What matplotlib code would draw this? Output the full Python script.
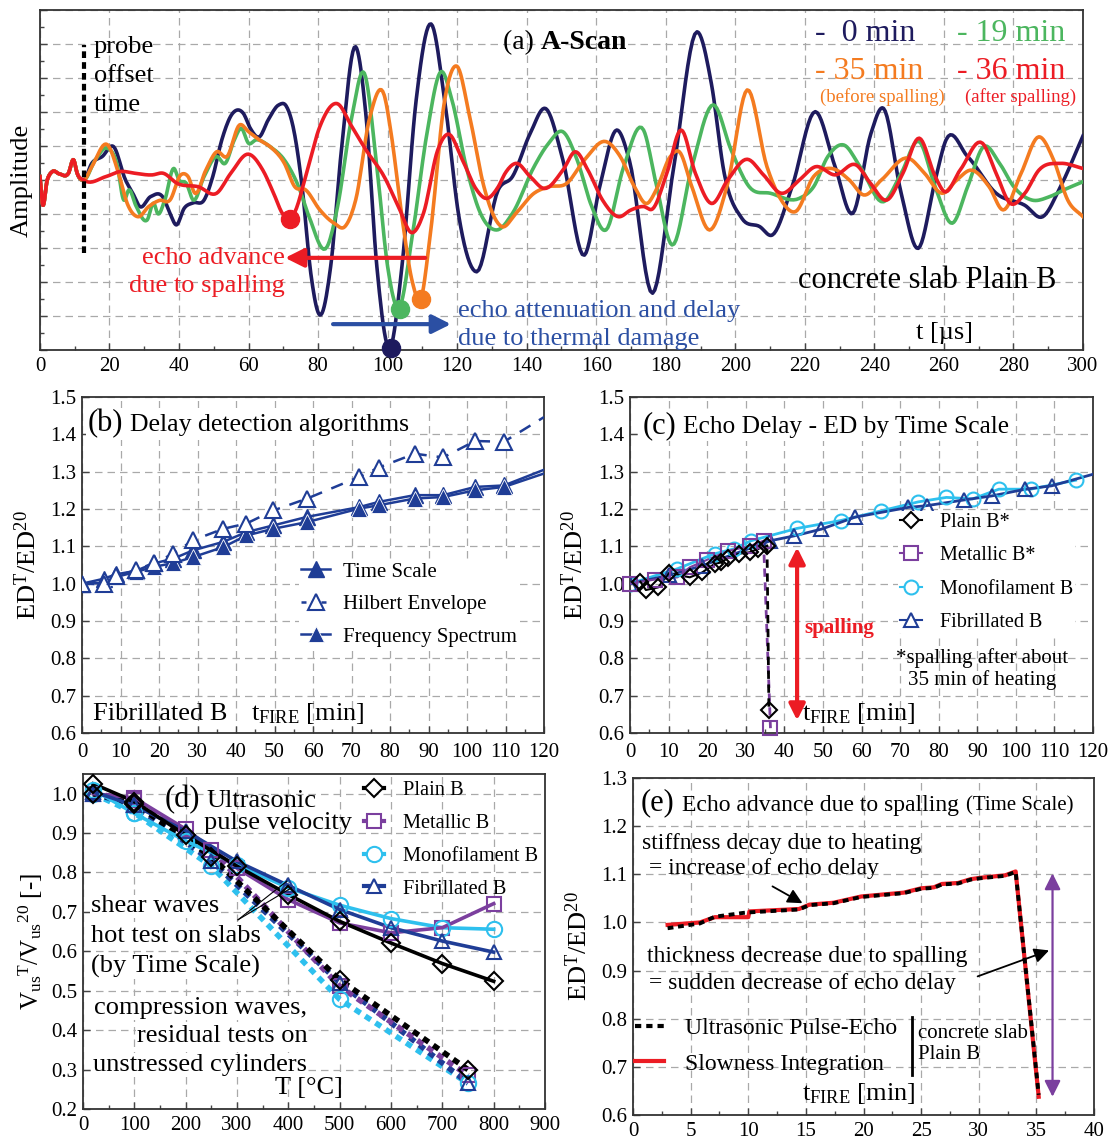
import numpy as np
import matplotlib
matplotlib.use("Agg")
import matplotlib.pyplot as plt
from matplotlib.ticker import MultipleLocator, FormatStrFormatter
from matplotlib.offsetbox import TextArea, HPacker, AnnotationBbox
from matplotlib.lines import Line2D

plt.rcParams['font.family'] = ['Liberation Serif', 'DejaVu Serif']
plt.rcParams['mathtext.fontset'] = 'custom'
plt.rcParams['mathtext.rm'] = 'Liberation Serif'
plt.rcParams['mathtext.it'] = 'Liberation Serif:italic'
plt.rcParams['mathtext.bf'] = 'Liberation Serif:bold'

# ---------------- (a) A-scan data (time in microseconds, amplitude in grid units) ----
pre_t = [0, 0.7, 2.1, 3.6, 5.6, 8.2, 9.7, 10.7, 12.6]
pre_a = [0.1, -0.69, 0.0, 0.25, 0.18, 0.2, 0.59, 0.2, 0.0]

navy_t = [14.9, 17.9, 21.2, 24.6, 26.7, 28.7, 31.8, 35.4, 37.4, 39.2, 41.5, 44.1, 47.2, 49.7,
          52.3, 55.4, 58.5, 60.5, 63.1, 65.6, 68.7, 70.8, 72.8, 75.4, 77.9, 80.5, 83.6, 86.7,
          90.8, 93.8, 96.9, 100.5, 104.1, 108.2, 112.5, 116.4, 120.5, 125.6, 131.8, 135.9,
          141.0, 145.5, 150.4, 156.6, 161.2, 165.9, 169.5, 176.2, 182.3, 189.0, 193.1, 196.8,
          201.9, 207.0, 210.6, 216.3, 223.0, 228.7, 233.8, 239.0, 242.6, 247.7, 252.6, 257.5,
          260.6, 266.8, 275.0, 283.2, 288.4, 293.5, 300.0]
navy_a = [0.49, 0.69, 0.98, 0.0, -0.39, -0.78, -0.49, -0.51, -0.98, -1.32, -0.83, -0.67, -0.59,
          0.1, 1.18, 1.96, 1.96, 1.52, 1.27, 1.76, 2.21, 2.18, 1.57, -0.2, -2.75, -3.97, -2.55,
          0.88, 3.92, 1.86, -2.55, -4.95, -2.55, 2.35, 4.59, 2.35, -1.08, -2.70, -0.29, 0.1,
          1.37, 2.1, 0.59, -2.21, -0.1, 1.47, 0.59, -3.33, 0.39, 4.36, 2.84, 0.2, -1.13, -1.37,
          -1.62, -0.2, 2.01, 0.39, -0.98, 1.37, 2.11, -0.39, -2.01, 0.0, 1.18, 0.69, -0.39,
          -0.74, -1.08, -0.2, 1.3]

green_t = [15.9, 19.5, 22.1, 24.1, 25.6, 27.7, 30.8, 32.8, 33.8, 35.9, 38.5, 40.0, 42.1, 44.1,
           47.2, 50.8, 53.3, 55.9, 57.9, 60.0, 62.1, 66.2, 70.3, 74.4, 77.4, 82.6, 85.6, 89.7,
           93.3, 96.9, 100.0, 103.1, 107.2, 111.3, 115.4, 118.5, 122.6, 126.7, 131.3, 135.9,
           142.1, 146.3, 150.4, 154.5, 158.7, 162.8, 167.9, 173.6, 177.2, 181.8, 187.5, 193.7,
           198.8, 204.0, 210.1, 218.4, 222.5, 226.6, 231.2, 235.9, 242.6, 247.7, 252.9, 257.5,
           262.4, 266.8, 271.4, 276.0, 280.1, 285.3, 290.4, 294.5, 300.0]
green_a = [0.59, 0.93, 0.49, -0.59, -0.29, -0.78, -1.18, -0.69, -0.98, -0.59, 0.34, 0.0, -0.1,
           -0.59, 0.1, 0.69, 0.49, 1.18, 1.52, 1.08, 1.18, 0.98, 0.59, -0.2, -1.08, -1.96,
           -0.78, 1.86, 3.14, 0.39, -2.55, -3.77, -1.57, 1.37, 3.19, 2.35, 0.39, -0.98, -1.47,
           -0.98, 0.39, 1.08, 1.42, 0.59, -0.78, -1.47, 0.39, 1.47, -0.1, -1.91, 0.39, 2.21,
           0.88, -0.2, -0.39, -0.54, -0.2, 0.69, 1.03, 0.39, -0.64, 0.2, 1.13, -0.2, -1.27,
           -0.2, 0.98, 0.49, -0.2, -0.59, -0.49, -0.29, -0.05]

orange_t = [14.9, 19.5, 22.6, 25.1, 28.2, 31.3, 34.4, 37.4, 40.5, 42.6, 44.6, 47.7, 50.8, 53.8,
            57.4, 60.0, 63.1, 66.2, 70.3, 73.3, 76.4, 80.5, 84.6, 87.7, 90.8, 94.9, 99.0, 101.0,
            104.1, 107.2, 109.4, 112.3, 116.4, 119.9, 123.6, 127.7, 132.8, 136.9, 142.1, 146.3,
            151.5, 156.6, 162.8, 166.9, 171.0, 174.6, 177.2, 181.3, 183.9, 187.5, 192.6, 197.8,
            203.4, 209.1, 213.2, 217.3, 222.5, 227.6, 232.8, 236.9, 242.0, 249.8, 254.4, 259.5,
            263.7, 267.8, 273.0, 277.0, 282.2, 287.3, 291.5, 295.6, 300.0]
orange_a = [0.39, 1.03, 0.2, -0.69, -1.08, -0.78, -0.6, -0.59, 0.15, 0.1, -0.39, 0.29, 0.83,
            0.69, 1.62, 1.42, 1.18, 0.98, 0.49, -0.2, -0.29, -0.88, -1.27, -1.37, -0.59, 1.86,
            2.5, 1.37, -1.08, -3.04, -3.53, -1.57, 2.35, 3.35, 1.86, -0.2, -1.37, -0.98, -0.39,
            -0.2, -0.1, 0.59, 1.13, 0.69, -0.2, -0.69, -0.3, 0.69, 0.83, -0.2, -1.47, -0.1, 2.65,
            0.39, -0.59, -0.93, 0.1, 0.34, 0.0, -0.44, 0.0, 0.64, 0.2, -0.39, 0.0, 0.29, -0.2,
            -0.88, 0.2, 1.27, 0.6, -0.59, -1.08]

red_t = [18.97, 23.1, 27.2, 32.3, 35.4, 39.5, 45.6, 50.8, 54.9, 60.0, 64.1, 67.2, 69.7, 71.8,
         73.5, 76.4, 80.5, 85.4, 89.7, 93.8, 99.0, 103.1, 107.0, 110.3, 114.4, 117.4, 121.5,
         125.6, 128.2, 131.8, 133.8, 136.9, 141.0, 145.1, 150.4, 154.0, 157.6, 161.8, 166.4,
         170.0, 173.6, 176.2, 180.3, 184.4, 188.5, 193.1, 197.8, 203.4, 208.1, 213.2, 218.4,
         223.0, 228.7, 234.8, 238.9, 243.6, 248.2, 252.9, 257.5, 260.1, 264.7, 271.1, 275.0,
         279.1, 283.2, 287.3, 293.5, 300.0]
red_a = [0.1, 0.25, 0.2, 0.15, 0.2, -0.1, -0.2, -0.39, 0.2, 0.76, 0.29, -0.39, -0.98, -1.18,
         -0.9, 0.1, 1.57, 2.25, 1.57, 0.88, 0.1, -0.78, -1.55, -0.98, 0.88, 1.35, 0.59, -0.29,
         -0.54, -0.2, 0.2, 0.49, 0.1, -0.25, 0.29, 0.83, 0.29, -0.59, -1.08, -0.88, -0.78,
         -0.85, 0.2, 1.47, 0.2, -0.69, 0.0, 0.61, 0.15, -0.39, 0.0, 0.39, 0.15, 0.44, -0.1,
         -0.59, 0.2, 1.23, 0.1, -0.34, 0.3, 1.08, 0.2, -0.69, -0.4, 0.29, 0.49, 0.34]

echo_t = [100.9, 103.5, 109.6, 71.9]        # picked echo minima: 0, 19, 35, 36 min
echo_a = [-4.94, -3.79, -3.5, -1.15]

# ---------------- (b) delay detection algorithms (Fibrillated B) ----
b_t = [0, 5.6, 8.8, 13.9, 18.6, 23.7, 28.8, 36.7, 42.7, 49.7, 58.5, 72.0, 77.1, 86.4, 93.8,
       102.1, 109.6]
b_timescale = [1.0, 1.013, 1.025, 1.034, 1.054, 1.067, 1.089, 1.112, 1.138, 1.156, 1.179,
               1.205, 1.219, 1.237, 1.237, 1.259, 1.263]
b_freq = [1.0, 1.002, 1.018, 1.031, 1.045, 1.055, 1.071, 1.098, 1.129, 1.147, 1.165, 1.201,
          1.21, 1.228, 1.232, 1.25, 1.259]
b_hilbert = [1.0, 0.998, 1.02, 1.036, 1.055, 1.08, 1.116, 1.147, 1.161, 1.196, 1.228, 1.286,
             1.311, 1.348, 1.338, 1.382, 1.38]
b_end_t = 120
b_end = {'ts': 1.305, 'fs': 1.295, 'he': 1.446}

# ---------------- (c) echo delay by time scale ----
plain_t = [2.7, 4.1, 7.3, 10.0, 15.5, 18.7, 21.9, 23.7, 25.5, 28.2, 31.0, 33.2, 35.5, 36.0]
plain_v = [1.005, 0.983, 0.99, 1.028, 1.017, 1.03, 1.053, 1.057, 1.07, 1.08, 1.084, 1.093,
           1.102, 0.661]
metal_t = [0, 6.4, 12.3, 15.5, 20.0, 25.5, 31.0, 34.6, 36.4]
metal_v = [1.0, 1.011, 1.017, 1.044, 1.064, 1.088, 1.10, 1.115, 0.613]
mono_t = [0, 12.3, 21.9, 26.9, 31.4, 43.3, 54.6, 65.1, 74.7, 82.0, 88.8, 95.6, 103.8, 115.5]
mono_v = [1.0, 1.04, 1.08, 1.093, 1.115, 1.148, 1.169, 1.195, 1.219, 1.231, 1.227, 1.253,
          1.253, 1.277]
fib_t = [0, 10.0, 18.7, 36.4, 42.6, 49.6, 58.3, 72.0, 77.0, 86.5, 93.8, 102.5, 109.3]
fib_v = [1.0, 1.022, 1.048, 1.115, 1.128, 1.146, 1.178, 1.204, 1.209, 1.224, 1.235, 1.253, 1.262]
fib_end = (120, 1.293)

# ---------------- (d) ultrasonic pulse velocity ----
hot_T = [20, 100, 200, 300, 400, 500, 600, 700, 800]
plain_hot = [1.025, 0.98, 0.895, 0.816, 0.744, 0.676, 0.621, 0.569, 0.524]
metal_hot = [1.0, 0.989, 0.91, 0.811, 0.731, 0.672, 0.647, 0.66, 0.721]
mono_hot = [1.01, 0.95, 0.88, 0.82, 0.761, 0.717, 0.683, 0.66, 0.656]
fib_hot = [1.005, 0.97, 0.905, 0.828, 0.767, 0.706, 0.66, 0.626, 0.598]
res_T = [20, 100, 250, 500, 750]
plain_res = [1.0, 0.975, 0.84, 0.528, 0.30]
metal_res = [1.0, 0.985, 0.858, 0.511, 0.285]
mono_res = [1.0, 0.951, 0.816, 0.478, 0.265]
fib_res = [1.0, 0.97, 0.83, 0.52, 0.266]

# ---------------- (e) echo advance due to spalling ----
e_red_t = [3.0, 5.8, 7.1, 10.0, 10.1, 14.4, 15.3, 17.4, 19.8, 23.5, 25.0, 26.1, 26.8, 28.2,
           29.3, 30.2, 32.3, 33.2, 35.2]
e_red_v = [0.995, 1.0, 1.011, 1.011, 1.023, 1.028, 1.037, 1.041, 1.054, 1.062, 1.071, 1.073,
           1.08, 1.082, 1.09, 1.093, 1.098, 1.106, 0.638]
e_blk_t = [3.0, 5.8, 7.1, 9.6, 10.1, 14.4, 15.3, 17.4, 19.8, 23.5, 25.0, 26.1, 26.8, 28.2,
           29.3, 30.2, 32.3, 33.2, 35.2]
e_blk_v = [0.988, 0.998, 1.012, 1.020, 1.021, 1.027, 1.036, 1.040, 1.053, 1.061, 1.070, 1.072,
           1.079, 1.081, 1.089, 1.092, 1.097, 1.105, 0.642]

# ---------------- colours ----
C_NAVY = '#1e1b5e'
C_GREEN = '#4cb65f'
C_ORANGE = '#f47b20'
C_RED = '#ec1c24'
C_BLUE = '#2b4fa3'
C_FIB = '#1f3d96'
C_PURPLE = '#7b3f9e'
C_CYAN = '#2ec0ee'
GRID = '#a9a9a9'


def smooth(x, y, n=10):
    x = np.asarray(x, float)
    y = np.asarray(y, float)
    m = np.gradient(y, x)
    xs, ys = [], []
    s = np.linspace(0, 1, n, endpoint=False)
    for i in range(len(x) - 1):
        h = x[i + 1] - x[i]
        h00 = 2 * s**3 - 3 * s**2 + 1
        h10 = s**3 - 2 * s**2 + s
        h01 = -2 * s**3 + 3 * s**2
        h11 = s**3 - s**2
        xs.append(x[i] + s * h)
        ys.append(h00 * y[i] + h10 * h * m[i] + h01 * y[i + 1] + h11 * h * m[i + 1])
    xs.append([x[-1]])
    ys.append([y[-1]])
    return np.concatenate(xs), np.concatenate(ys)


def setup(ax, xlim, ylim, xmaj, xmin, ymaj, ymin=None, yfmt='%.1f'):
    ax.set_xlim(*xlim)
    ax.set_ylim(*ylim)
    ax.xaxis.set_major_locator(MultipleLocator(xmaj))
    ax.xaxis.set_minor_locator(MultipleLocator(xmin))
    ax.yaxis.set_major_locator(MultipleLocator(ymaj))
    if ymin:
        ax.yaxis.set_minor_locator(MultipleLocator(ymin))
    if yfmt:
        ax.yaxis.set_major_formatter(FormatStrFormatter(yfmt))
    ax.grid(True, which='major', color=GRID, linestyle=(0, (6, 4)), linewidth=0.9)
    ax.set_axisbelow(True)
    ax.tick_params(direction='in', which='both', labelsize=15, length=5, width=1,
                   color='#444444', pad=4)
    ax.tick_params(axis='x', which='major', pad=7)
    ax.tick_params(which='minor', length=3)
    for sp in ax.spines.values():
        sp.set_color('#333333')
        sp.set_linewidth(1.3)


def mixed(ax, parts, xy, align=(0, 0.5), bg=False, sep=5):
    children = []
    for s, kw in parts:
        tp = dict(color='k')
        tp.update(kw)
        children.append(TextArea(s, textprops=tp))
    box = HPacker(children=children, align='baseline', pad=0, sep=sep)
    ab = AnnotationBbox(box, xy, xycoords='data', box_alignment=align, frameon=bg, pad=0.1,
                        bboxprops=dict(fc='white', ec='none'), zorder=6)
    ax.add_artist(ab)


fig = plt.figure(figsize=(11.1, 11.4), dpi=100)

# =============================== (a) ===============================
axa = fig.add_axes([0.0360, 0.6930, 0.9397, 0.2982])
setup(axa, (0, 300), (-5, 5), 20, 10, 1, 0.5, yfmt=None)
axa.xaxis.set_major_formatter(FormatStrFormatter('%d'))
axa.tick_params(axis='x', which='major', pad=5)
axa.set_yticklabels([])
axa.set_ylabel('Amplitude', fontsize=19)
axa.yaxis.set_label_coords(-0.007, 0.5)

for tt, aa, col in [(navy_t, navy_a, C_NAVY), (green_t, green_a, C_GREEN),
                    (orange_t, orange_a, C_ORANGE), (red_t, red_a, C_RED)]:
    xs, ys = smooth(pre_t + tt, pre_a + aa)
    axa.plot(xs, ys, color=col, lw=2.6, solid_joinstyle='round', zorder=3)

axa.plot([12.6, 12.6], [-2.15, 3.97], color='k', lw=3, linestyle=(0, (1.6, 1.0)), zorder=4)
for s, yy in [('probe', 3.92), ('offset', 3.06), ('time', 2.2)]:
    axa.text(15.4, yy, s, fontsize=19, va='center', ha='left', zorder=5)

for et, ea, col in zip(echo_t, echo_a, [C_NAVY, C_GREEN, C_ORANGE, C_RED]):
    axa.plot([et], [ea], 'o', color=col, ms=13, zorder=5, clip_on=False)

axa.annotate('', xy=(70.5, -2.29), xytext=(110.8, -2.29),
             arrowprops=dict(arrowstyle='-|>', color=C_RED, lw=3, mutation_scale=28,
                             shrinkA=0, shrinkB=0), zorder=5)
axa.annotate('', xy=(118.2, -4.24), xytext=(84.3, -4.24),
             arrowprops=dict(arrowstyle='-|>', color=C_BLUE, lw=3, mutation_scale=28,
                             shrinkA=0, shrinkB=0), zorder=5)
axa.text(70.3, -2.29, 'echo advance', color=C_RED, fontsize=19, ha='right', va='center')
axa.text(70.3, -3.12, 'due to spalling', color=C_RED, fontsize=19, ha='right', va='center')
axa.text(120.2, -3.85, 'echo attenuation and delay', color=C_BLUE, fontsize=19, ha='left',
         va='center')
axa.text(120.2, -4.68, 'due to thermal damage', color=C_BLUE, fontsize=19, ha='left',
         va='center')
axa.text(255.1, -2.97, 'concrete slab Plain B', fontsize=22, ha='center', va='center')
axa.text(260.3, -4.5, 't [µs]', fontsize=19, ha='center', va='center')
mixed(axa, [('(a) ', dict(fontsize=20)), ('A-Scan', dict(fontsize=20, fontweight='bold'))],
      (151.1, 4.05), align=(0.5, 0.5), sep=0)
axa.text(222.9, 4.3, '-  0 min', color=C_NAVY, fontsize=23, ha='left', va='center')
axa.text(263.7, 4.3, '- 19 min', color=C_GREEN, fontsize=23, ha='left', va='center')
axa.text(222.9, 3.18, '- 35 min', color=C_ORANGE, fontsize=23, ha='left', va='center')
axa.text(263.7, 3.18, '- 36 min', color=C_RED, fontsize=23, ha='left', va='center')
axa.text(242.2, 2.44, '(before spalling)', color=C_ORANGE, fontsize=13.5, ha='center',
         va='center')
axa.text(282.1, 2.44, '(after spalling)', color=C_RED, fontsize=13.5, ha='center', va='center')

EDLAB = r'ED$^{\mathrm{T}}$/ED$^{20}$'
TLAB = r't$_{\mathrm{FIRE}}$ [min]'

# =============================== (b) ===============================
axb = fig.add_axes([0.0739, 0.3570, 0.4162, 0.2948])
setup(axb, (0, 120), (0.6, 1.5), 10, 5, 0.1)
axb.set_ylabel(EDLAB, fontsize=19)
axb.yaxis.set_label_coords(-0.089, 0.5)
axb.plot(b_t + [b_end_t], b_timescale + [b_end['ts']], color=C_FIB, lw=1.8, zorder=3)
axb.plot(b_t + [b_end_t], b_freq + [b_end['fs']], color=C_FIB, lw=1.8, zorder=3)
axb.plot(b_t + [b_end_t], b_hilbert + [b_end['he']], color=C_FIB, lw=1.8,
         linestyle=(0, (5, 4)), zorder=3)
axb.plot(b_t, b_timescale, '^', color=C_FIB, ms=11, ls='none', zorder=4)
axb.plot(b_t, b_freq, '^', color=C_FIB, mec='white', mew=0.6, ms=11, ls='none', zorder=4)
axb.plot(b_t, b_hilbert, '^', mfc='white', mec=C_FIB, mew=1.5, ms=11, ls='none', zorder=4)
hb = [Line2D([], [], color=C_FIB, lw=1.8, marker='^', ms=11),
      Line2D([], [], color=C_FIB, lw=1.8, ls=(0, (2, 2)), marker='^', mfc='white', mew=1.5, ms=11),
      Line2D([], [], color=C_FIB, lw=1.8, marker='^', mec='white', mew=0.6, ms=11)]
axb.legend(hb, ['Time Scale', 'Hilbert Envelope', 'Frequency Spectrum'], loc='upper left',
           bbox_to_anchor=(0.47, 0.515), fontsize=15, frameon=True, facecolor='white',
           edgecolor='none', framealpha=1, borderpad=0.1, borderaxespad=0, handlelength=1.4,
           handletextpad=0.6, labelspacing=0.62)
mixed(axb, [('(b)', dict(fontsize=22)), ('Delay detection algorithms', dict(fontsize=18.5))],
      (1.4, 1.428), bg=True)
axb.text(20.2, 0.652, 'Fibrillated B', fontsize=19, ha='center', va='center')
axb.text(58.7, 0.652, TLAB, fontsize=19, ha='center', va='center')

# =============================== (c) ===============================
axc = fig.add_axes([0.5676, 0.3570, 0.4171, 0.2948])
setup(axc, (0, 120), (0.6, 1.5), 10, 5, 0.1)
axc.set_ylabel(EDLAB, fontsize=19)
axc.yaxis.set_label_coords(-0.091, 0.5)
axc.plot(mono_t, mono_v, color=C_CYAN, lw=2, zorder=3)
axc.plot(mono_t, mono_v, 'o', mfc='none', mec=C_CYAN, mew=1.5, ms=10, zorder=4)
axc.plot(fib_t + [fib_end[0]], fib_v + [fib_end[1]], color=C_FIB, lw=2, zorder=3)
axc.plot(fib_t, fib_v, '^', mfc='none', mec=C_FIB, mew=1.5, ms=10, zorder=4)
axc.plot(metal_t[:-1], metal_v[:-1], color=C_PURPLE, lw=1.5, zorder=3)
axc.plot(metal_t[-2:], metal_v[-2:], color=C_PURPLE, lw=2, ls=(0, (3, 2)), zorder=3)
axc.plot(metal_t, metal_v, 's', mfc='none', mec=C_PURPLE, mew=1.5, ms=9.5, zorder=4,
         clip_on=False)
axc.plot(plain_t[:-1], plain_v[:-1], color='k', lw=1.5, zorder=3)
axc.plot(plain_t[-2:], plain_v[-2:], color='k', lw=2, ls=(0, (3, 2)), zorder=3)
axc.plot(plain_t, plain_v, 'D', mfc='none', mec='k', mew=1.5, ms=8.5, zorder=5)
axc.annotate('', xy=(43.3, 0.634), xytext=(43.3, 1.097),
             arrowprops=dict(arrowstyle='<|-|>', color=C_RED, lw=3, mutation_scale=24,
                             shrinkA=0, shrinkB=0), zorder=5)
axc.text(54.2, 0.881, 'spalling', color=C_RED, fontsize=15, fontweight='bold', ha='center',
         va='center')
hc = [Line2D([], [], color='k', lw=1.5, marker='D', mfc='white', mew=1.5, ms=8.5),
      Line2D([], [], color=C_PURPLE, lw=1.5, marker='s', mfc='white', mew=1.5, ms=9.5),
      Line2D([], [], color=C_CYAN, lw=1.5, marker='o', mfc='white', mew=1.5, ms=10),
      Line2D([], [], color=C_FIB, lw=1.5, marker='^', mfc='white', mew=1.5, ms=10)]
axc.legend(hc, ['Plain B*', 'Metallic B*', 'Monofilament B', 'Fibrillated B'], loc='upper left',
           bbox_to_anchor=(0.578, 0.662), fontsize=14.5, frameon=True, facecolor='white',
           edgecolor='none', framealpha=1, borderpad=0.1, borderaxespad=0, handlelength=1.1,
           handletextpad=0.9, labelspacing=0.72)
axc.text(69.0, 0.80, '*spalling after about', fontsize=15, ha='left', va='center')
axc.text(72.1, 0.743, '35 min of heating', fontsize=15, ha='left', va='center')
mixed(axc, [('(c)', dict(fontsize=22)), ('Echo Delay - ED by Time Scale', dict(fontsize=18.3))],
      (3.3, 1.424), bg=True)
axc.text(59.3, 0.653, TLAB, fontsize=19, ha='center', va='center')

# =============================== (d) ===============================
axd = fig.add_axes([0.0748, 0.0272, 0.4162, 0.2939])
setup(axd, (0, 900), (0.2, 1.05), 100, 50, 0.1)
axd.xaxis.set_major_formatter(FormatStrFormatter('%d'))
axd.tick_params(axis='x', which='major', pad=5)
axd.set_ylabel(r'V$_{\mathrm{us}}$$^{\mathrm{T}}$/V$_{\mathrm{us}}$$^{\mathrm{20}}$ [-]',
               fontsize=18)
axd.yaxis.set_label_coords(-0.083, 0.5)
dash = (0, (1.2, 1.0))
for vals, col in [(mono_res, C_CYAN), (fib_res, C_FIB), (metal_res, C_PURPLE), (plain_res, 'k')]:
    axd.plot(res_T, vals, color=col, lw=4, ls=dash, zorder=3)
for vals, col in [(mono_hot, C_CYAN), (metal_hot, C_PURPLE), (fib_hot, C_FIB), (plain_hot, 'k')]:
    axd.plot(hot_T, vals, color=col, lw=2.6, zorder=3)
for vals_h, vals_r, col, mk, ms in [(metal_hot, metal_res, C_PURPLE, 's', 10),
                                    (mono_hot, mono_res, C_CYAN, 'o', 11),
                                    (fib_hot, fib_res, C_FIB, '^', 10),
                                    (plain_hot, plain_res, 'k', 'D', 9.5)]:
    axd.plot(hot_T, vals_h, mk, mfc='none', mec=col, mew=1.5, ms=ms, zorder=4, clip_on=False)
    axd.plot(res_T, vals_r, mk, mfc='none', mec=col, mew=1.5, ms=ms, zorder=4, clip_on=False)
hd = [Line2D([], [], color='k', lw=3, marker='D', mfc='white', mew=1.5, ms=9.5),
      Line2D([], [], color=C_PURPLE, lw=3, marker='s', mfc='white', mew=1.5, ms=10),
      Line2D([], [], color=C_CYAN, lw=3, marker='o', mfc='white', mew=1.5, ms=11),
      Line2D([], [], color=C_FIB, lw=3, marker='^', mfc='white', mew=1.5, ms=10)]
axd.legend(hd, ['Plain B', 'Metallic B', 'Monofilament B', 'Fibrillated B'], loc='upper left',
           bbox_to_anchor=(0.603, 0.985), fontsize=14.7, frameon=False, borderpad=0.1,
           borderaxespad=0, handlelength=1.0, handletextpad=0.95, labelspacing=0.66)
mixed(axd, [('(d)', dict(fontsize=22)), ('Ultrasonic', dict(fontsize=19))], (158, 0.985))
axd.text(235, 0.926, 'pulse velocity', fontsize=19, ha='left', va='center')
for s, yy in [('shear waves', 0.714), ('hot test on slabs', 0.638), ('(by Time Scale)', 0.562)]:
    axd.text(15, yy, s, fontsize=19, ha='left', va='center',
             bbox=dict(fc='white', ec='none', pad=0.5))
for s, yy in [('compression waves,', 0.456), ('residual tests on', 0.384),
              ('unstressed cylinders', 0.312)]:
    axd.text(437, yy, s, fontsize=19, ha='right', va='center',
             bbox=dict(fc='white', ec='none', pad=0.5))
axd.plot([302, 397], [0.68, 0.778], color='k', lw=0.8, zorder=5)
axd.plot([302, 406], [0.68, 0.761], color='k', lw=0.8, zorder=5)
axd.text(440, 0.253, 'T [°C]', fontsize=19, ha='center', va='center')

# =============================== (e) ===============================
axe = fig.add_axes([0.5703, 0.0219, 0.4153, 0.2956])
setup(axe, (0, 40), (0.6, 1.3), 5, 2.5, 0.1)
axe.xaxis.set_major_formatter(FormatStrFormatter('%d'))
axe.tick_params(axis='x', which='major', pad=5)
axe.set_ylabel(EDLAB, fontsize=19)
axe.yaxis.set_label_coords(-0.09, 0.5)
axe.plot(e_red_t, e_red_v, color=C_RED, lw=3, zorder=3)
axe.plot(e_blk_t, e_blk_v, color='k', lw=2.8, ls=(0, (1.5, 1.2)), zorder=4)
he = [Line2D([], [], color='k', lw=3, ls=(0, (1.5, 1.2))), Line2D([], [], color=C_RED, lw=3)]
axe.legend(he, ['Ultrasonic Pulse-Echo', 'Slowness Integration'], loc='upper left',
           bbox_to_anchor=(0.005, 0.29), fontsize=17, frameon=False, borderpad=0,
           borderaxespad=0, handlelength=1.2, handletextpad=0.9, labelspacing=0.6)
axe.plot([24.2, 24.2], [0.683, 0.804], color='k', lw=2)
axe.text(24.7, 0.77, 'concrete slab', fontsize=15, ha='left', va='center')
axe.text(24.7, 0.725, 'Plain B', fontsize=15, ha='left', va='center')
mixed(axe, [('(e)', dict(fontsize=22)), ('Echo advance due to spalling', dict(fontsize=17)),
            ('(Time Scale)', dict(fontsize=15))], (0.7, 1.248))
axe.text(0.8, 1.165, 'stiffness decay due to heating', fontsize=17, ha='left', va='center')
axe.text(1.4, 1.113, '= increase of echo delay', fontsize=17, ha='left', va='center')
axe.text(1.2, 0.929, 'thickness decrease due to spalling', fontsize=17, ha='left', va='center')
axe.text(1.4, 0.874, '= sudden decrease of echo delay', fontsize=17, ha='left', va='center')
axe.annotate('', xy=(14.7, 1.04), xytext=(12.1, 1.075),
             arrowprops=dict(arrowstyle='-|>', color='k', lw=1.3, mutation_scale=22,
                             shrinkA=0, shrinkB=0))
axe.annotate('', xy=(36.1, 0.942), xytext=(29.9, 0.888),
             arrowprops=dict(arrowstyle='-|>', color='k', lw=1.3, mutation_scale=22,
                             shrinkA=0, shrinkB=0))
axe.annotate('', xy=(36.4, 0.638), xytext=(36.4, 1.102),
             arrowprops=dict(arrowstyle='<|-|>', color=C_PURPLE, lw=1.6, mutation_scale=24,
                             shrinkA=0, shrinkB=0))
axe.text(19.6, 0.645, TLAB, fontsize=19, ha='center', va='center')

fig.savefig('out.png', dpi=100)
